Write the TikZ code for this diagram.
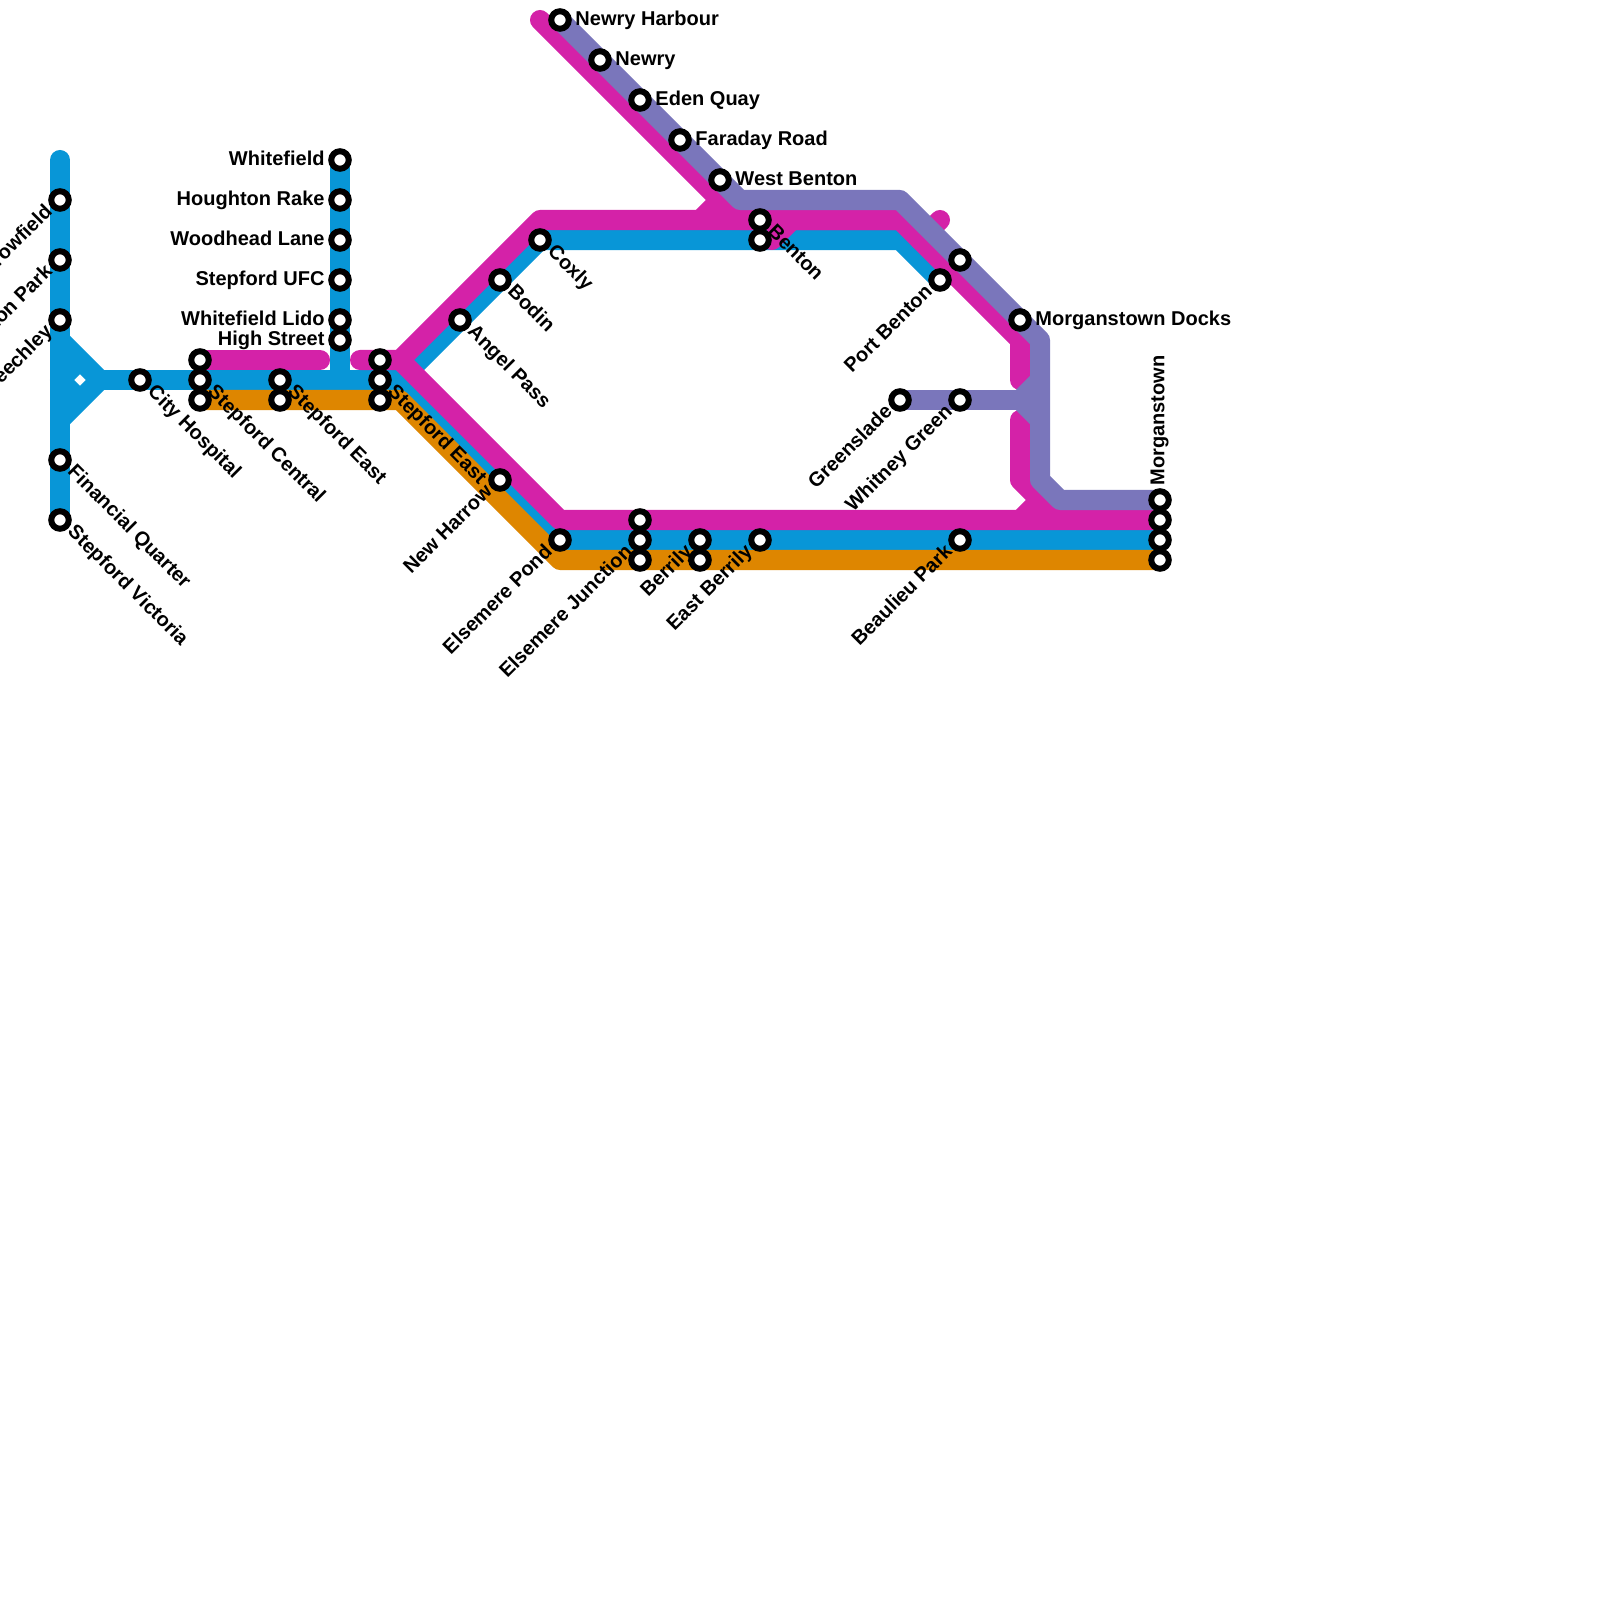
\documentclass[tikz,border=0pt]{standalone}
\usepackage{fontspec}
\setmainfont{Liberation Sans}
\usetikzlibrary{positioning,backgrounds}
\definecolor{lineblue}{HTML}{0896D7}
\definecolor{linepink}{HTML}{D422A8}
\definecolor{linepurple}{HTML}{7A76BB}
\definecolor{lineorange}{HTML}{DE8600}

\tikzset{
    stn/.style={circle, draw=black, fill=white, line width=0.06cm, minimum size=0.175cm, inner sep=0pt},
    lbl/.style={font=\bfseries\fontsize{5.69pt}{6pt}\selectfont, inner sep=0pt, text=black},
    lblw/.style={lbl, anchor=mid east, yshift=0.04cm},
    lble/.style={lbl, anchor=mid west, yshift=0.04cm},
    lblse/.style={lbl, anchor=mid west, rotate=-45, xshift=0.015cm, yshift=0.05cm},
    lblsw/.style={lbl, anchor=mid east, rotate=45, xshift=-0.015cm, yshift=0.05cm},
    route/.style={line width=0.2cm, line join=round}
}

\begin{document}
\begin{tikzpicture}[x=0.01cm, y=-0.01cm]
    \useasboundingbox (0,0) rectangle (1600,1600);

    % left branch
    \node[stn] (crow) at (60,200) {};
    \node[stn] (clin) at (60,260) {};
    \node[stn] (beech) at (60,320) {};
    \node[stn] (fin) at (60,460) {};
    \node[stn] (vict) at (60,520) {};
    \node[lblsw] (crowl) at (crow.south west) {Crowfield};
    \node[lblsw] (clinl) at (clin.south west) {Clinton Park};
    \node[lblsw] (beechl) at (beech.south west) {Beechley};
    \node[lblse] (finl) at (fin.south east) {Financial Quarter};
    \node[lblse] (victl) at (vict.south east) {Stepford Victoria};

    % centre
    \node[stn] (city) at (140,380) {};
    \node[stn] (centa) at (200,360) {};
    \node[stn] (centb) at (200,380) {};
    \node[stn] (centc) at (200,400) {};
    \node[stn] (easta) at (280,380) {};
    \node[stn] (eastb) at (280,400) {};
    \node[stn] (sea) at (380,360) {};
    \node[stn] (seb) at (380,380) {};
    \node[stn] (sec) at (380,400) {};
    \node[lblse] (cityl) at (city.south east) {City Hospital};
    \node[lblse] (centl) at (centb.south east) {Stepford Central};
    \node[lblse] (eastl) at (easta.south east) {Stepford East};
    \node[lblse] (sel) at (seb.south east) {Stepford East};

    % north branch
    \node[stn] (white) at (340,160) {};
    \node[stn] (hough) at (340,200) {};
    \node[stn] (wood) at (340,240) {};
    \node[stn] (ufc) at (340,280) {};
    \node[stn] (lido) at (340,320) {};
    \node[stn] (high) at (340,340) {};
    \node[left=0.03cm of white, lblw] (whitel) {Whitefield};
    \node[left=0.03cm of hough, lblw] (houghl) {Houghton Rake};
    \node[left=0.03cm of wood, lblw] (woodl) {Woodhead Lane};
    \node[left=0.03cm of ufc, lblw] (ufcl) {Stepford UFC};
    \node[left=0.03cm of lido, lblw] (lidol) {Whitefield Lido};
    \node[left=0.03cm of high, lblw] (highl) {High Street};

    % upper diagonal
    \node[stn] (angel) at (460,320) {};
    \node[stn] (bodin) at (500,280) {};
    \node[stn] (coxly) at (540,240) {};
    \node[lblse] (angell) at (angel.south east) {Angel Pass};
    \node[lblse] (bodinl) at (bodin.south east) {Bodin};
    \node[lblse] (coxlyl) at (coxly.south east) {Coxly};

    % newry line
    \node[stn] (harb) at (560,20) {};
    \node[stn] (newry) at (600,60) {};
    \node[stn] (eden) at (640,100) {};
    \node[stn] (fara) at (680,140) {};
    \node[stn] (wben) at (720,180) {};
    \node[right=0.03cm of harb, lble] (harbl) {Newry Harbour};
    \node[right=0.03cm of newry, lble] (newryl) {Newry};
    \node[right=0.03cm of eden, lble] (edenl) {Eden Quay};
    \node[right=0.03cm of fara, lble] (faral) {Faraday Road};
    \node[right=0.03cm of wben, lble] (wbenl) {West Benton};

    % benton
    \node[stn] (bena) at (760,220) {};
    \node[stn] (benb) at (760,240) {};
    \node[stn] (pben) at (940,280) {};
    \node[stn] (pbenb) at (960,260) {};
    \node[stn] (docks) at (1020,320) {};
    \node[lblse] (benl) at (bena.south east) {Benton};
    \node[lblsw] (pbenl) at (pben.south west) {Port Benton};
    \node[right=0.03cm of docks, lble] (docksl) {Morganstown Docks};

    % greenslade
    \node[stn] (green) at (900,400) {};
    \node[stn] (whit) at (960,400) {};
    \node[lblsw] (greenl) at (green.south west) {Greenslade};
    \node[lblsw] (whitl) at (whit.south west) {Whitney Green};

    % lower line
    \node[stn] (harrow) at (500,480) {};
    \node[stn] (pond) at (560,540) {};
    \node[stn] (juna) at (640,520) {};
    \node[stn] (junb) at (640,540) {};
    \node[stn] (junc) at (640,560) {};
    \node[stn] (bera) at (700,540) {};
    \node[stn] (berb) at (700,560) {};
    \node[stn] (eber) at (760,540) {};
    \node[stn] (beau) at (960,540) {};
    \node[stn] (morga) at (1160,500) {};
    \node[stn] (morgb) at (1160,520) {};
    \node[stn] (morgc) at (1160,540) {};
    \node[stn] (morgd) at (1160,560) {};
    \node[lblsw] (harrowl) at (harrow.south west) {New Harrow};
    \node[lblsw] (pondl) at (pond.south west) {Elsemere Pond};
    \node[lblsw] (junl) at (junb.south west) {Elsemere Junction};
    \node[lblsw] (berl) at (bera.south west) {Berrily};
    \node[lblsw] (eberl) at (eber.south west) {East Berrily};
    \node[lblsw] (beaul) at (beau.south west) {Beaulieu Park};
    \node[lbl, anchor=mid west, rotate=90, xshift=0.02cm, yshift=0.05cm] (morgl) at (morga.north) {Morganstown};

    % bends
    \coordinate (ltop) at (60,160);
    \coordinate (lup) at (60,340);
    \coordinate (lmid) at (60,380);
    \coordinate (ldown) at (60,420);
    \coordinate (lfilla) at (80,360);
    \coordinate (lfillb) at (80,400);
    \coordinate (ltip) at (100,380);
    \coordinate (nfoot) at (340,380);
    \coordinate (bsplit) at (400,380);
    \coordinate (bne) at (900,240);
    \coordinate (bse) at (560,540);
    \coordinate (oa) at (400,400);
    \coordinate (ob) at (560,560);
    \coordinate (pinka) at (320,360);
    \coordinate (pinkb) at (360,360);
    \coordinate (psplit) at (400,360);
    \coordinate (pnw) at (540,220);
    \coordinate (pne) at (900,220);
    \coordinate (pdota) at (920,240);
    \coordinate (pdotb) at (940,220);
    \coordinate (pea) at (1020,340);
    \coordinate (peb) at (1020,380);
    \coordinate (pec) at (1020,420);
    \coordinate (ped) at (1020,480);
    \coordinate (pee) at (1060,520);
    \coordinate (pse) at (560,520);
    \coordinate (ptop) at (540,20);
    \coordinate (ptopb) at (740,220);
    \coordinate (stuba) at (700,220);
    \coordinate (stubb) at (720,200);
    \coordinate (stubc) at (1020,520);
    \coordinate (stubd) at (1040,500);
    \coordinate (bumpa) at (792,220);
    \coordinate (bumpb) at (772,240);
    \coordinate (va) at (740,200);
    \coordinate (vb) at (900,200);
    \coordinate (vc) at (1040,340);
    \coordinate (vd) at (1040,480);
    \coordinate (ve) at (1060,500);
    \coordinate (vf) at (1040,380);
    \coordinate (vg) at (1020,400);
    \coordinate (vh) at (1040,420);

    \begin{scope}[on background layer]
        \draw[route, lineblue, line cap=round] (ltop) -- (vict.center);
        \draw[route, lineblue] (lup) -- (ltip) -- (ldown);
        \draw[route, lineblue] (lfilla) -- (lmid) -- (lfillb);
        \draw[route, lineblue] (ltip) -- (bsplit);
        \draw[route, lineblue] (white.center) -- (nfoot);
        \draw[route, lineblue] (bsplit) -- (coxly.center) -- (bne) -- (pben.center);
        \draw[route, lineblue] (bsplit) -- (bse) -- (morgc.center);

        \draw[route, lineorange] (centc.center) -- (oa) -- (ob) -- (morgd.center);

        \draw[route, linepink, line cap=round] (centa.center) -- (pinka);
        \draw[route, linepink, line cap=round] (pinkb) -- (psplit) -- (pnw) -- (pne) -- (pea) -- (peb);
        \draw[route, linepink] (psplit) -- (pse) -- (morgb.center);
        \draw[route, linepink, line cap=round] (ptop) -- (ptopb) -- (pne);
        \draw[route, linepink, line cap=round] (pdota) -- (pdotb);
        \draw[route, linepink, line cap=round] (pec) -- (ped) -- (pee);
        \draw[route, linepink] (stuba) -- (stubb);
        \draw[route, linepink] (stubc) -- (stubd);
        \draw[route, linepink, line cap=round] (bumpa) -- (bumpb);

        \draw[route, linepurple] (harb.center) -- (va) -- (vb) -- (vc) -- (vd) -- (ve) -- (morga.center);
        \draw[route, linepurple] (green.center) -- (vg);
        \draw[route, linepurple] (vf) -- (vg) -- (vh);
    \end{scope}
\end{tikzpicture}
\end{document}
